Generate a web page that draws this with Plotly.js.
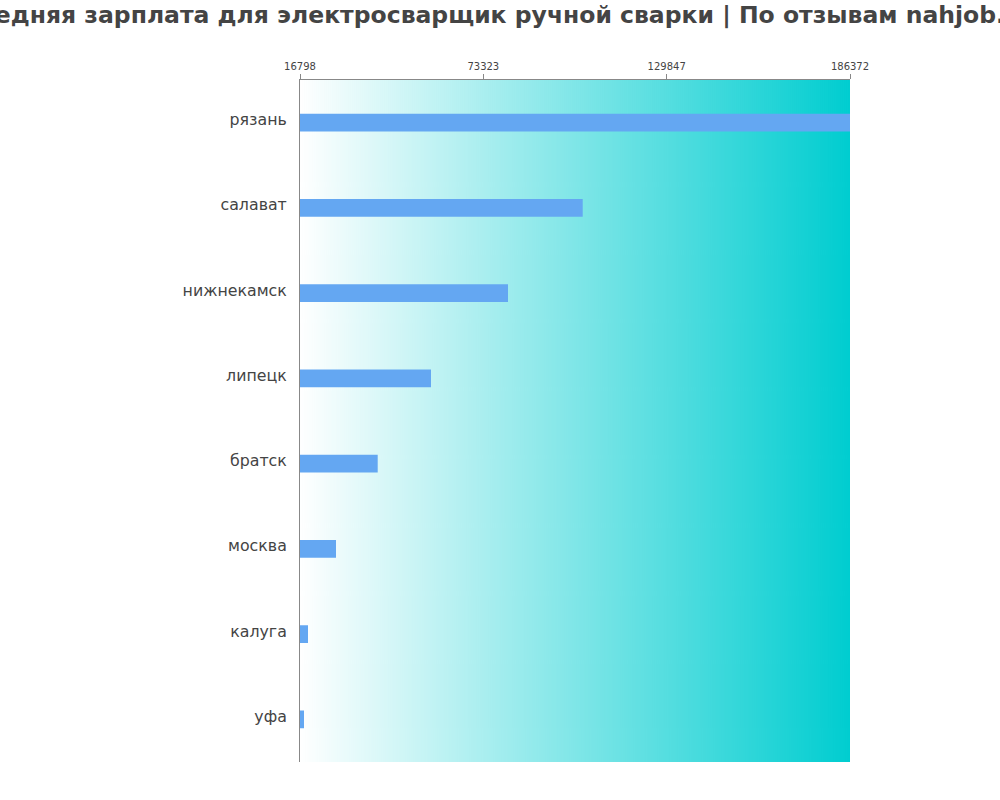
<!DOCTYPE html>
<html><head><meta charset="utf-8">
<script src="https://cdn.plot.ly/plotly-3.0.1.min.js"></script>
<style>body{margin:0;padding:0;background:#fff}#chart{width:1000px;height:800px}</style>
</head><body><div id="chart"></div>
<script>
const cities = ["рязань","салават","нижнекамск","липецк","братск","москва","калуга","уфа"];
const salaries = [186372, 103960, 80929, 57188, 40754, 27898, 19265, 18031];
const tickValues = [16798, 73323, 129847, 186372];
const tickLabels = ["16798","73323","129847","186372"];
const titleText = "Средняя зарплата для электросварщик ручной сварки | По отзывам nahjob.ru";

// gradient background image
const cv = document.createElement('canvas');
cv.width = 550; cv.height = 10;
const ctx = cv.getContext('2d');
const g = ctx.createLinearGradient(0,0,550,0);
g.addColorStop(0,'#ffffff');
g.addColorStop(1,'#00cdd0');
ctx.fillStyle = g; ctx.fillRect(0,0,550,10);
const bg = cv.toDataURL('image/png');

const trace = {
  type:'bar', orientation:'h',
  x: salaries, y: cities,
  marker:{color:'#64a7f2'},
  width:0.21,
  hoverinfo:'x+y'
};
const layout = {
  width:1000, height:800,
  margin:{l:300, r:150, t:80, b:38, pad:0},
  paper_bgcolor:'#ffffff', plot_bgcolor:'rgba(0,0,0,0)',
  font:{family:'"DejaVu Sans", sans-serif', color:'#444'},
  title:{text:'<b>'+titleText+'</b>', x:0.497, xanchor:'center', xref:'container', y:0.981, yref:'container', yanchor:'middle',
         font:{size:23.5, color:'#444', family:'"DejaVu Sans", sans-serif'}},
  showlegend:false,
  xaxis:{side:'top', range:[16798,186372], tickvals:tickValues, ticktext:tickLabels,
         tickfont:{size:10, color:'#444'}, ticks:'outside', ticklen:5, tickcolor:'#888',
         showline:true, linecolor:'#888', linewidth:1, showgrid:false, zeroline:false, fixedrange:true},
  yaxis:{type:'category', autorange:'reversed', tickfont:{size:15.8, color:'#444'},
         showline:true, linecolor:'#888', linewidth:1, showgrid:false, ticks:'', ticklabelstandoff:9, ticklabelshift:3, fixedrange:true},
  images:[{source:bg, xref:'paper', yref:'paper', x:0, y:1, sizex:1, sizey:1, sizing:'stretch', layer:'below', xanchor:'left', yanchor:'top'}]
};
Plotly.newPlot('chart',[trace],layout,{displayModeBar:false, staticPlot:true});
</script></body></html>
